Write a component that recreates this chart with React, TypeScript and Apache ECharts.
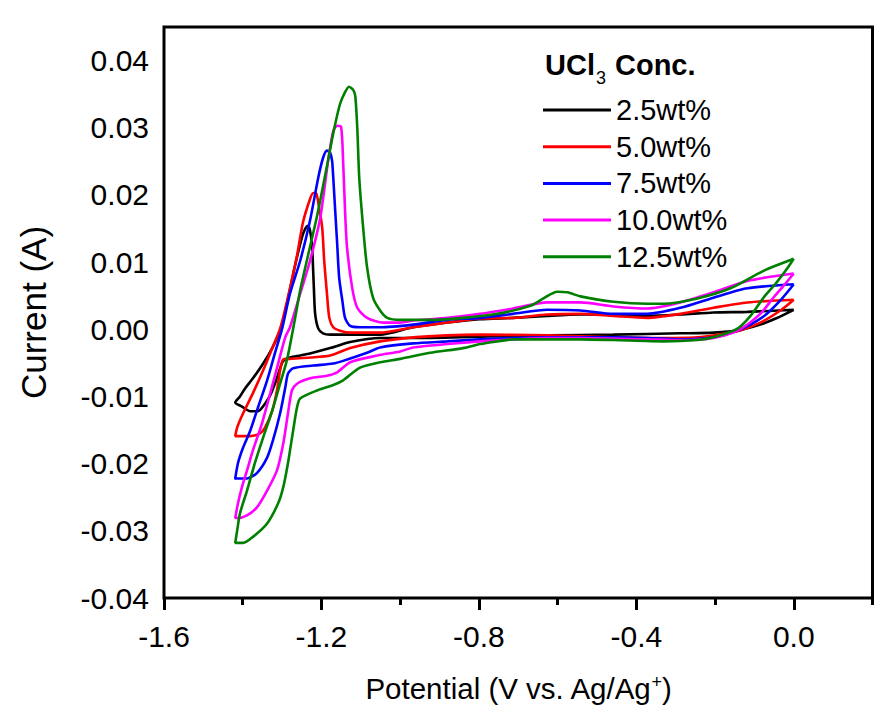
import React, { useEffect, useRef } from "react";
import * as echarts from "echarts";

const FONT = "'Liberation Sans', Arial, sans-serif";

const X_MAJOR = [-1.6, -1.2, -0.8, -0.4, 0.0];
const X_MINOR = [-1.4, -1.0, -0.6, -0.2, 0.2];
const Y_TICKS = [-0.04, -0.03, -0.02, -0.01, 0.0, 0.01, 0.02, 0.03, 0.04];

const SERIES_NAMES = ["2.5wt%", "5.0wt%", "7.5wt%", "10.0wt%", "12.5wt%"];
const SERIES_COLORS = ["#000000", "#ff0000", "#0000ff", "#ff00ff", "#008000"];

// [potential (V), current (A)] — cathodic sweep from 0 V to -1.42 V, then anodic back
const CV_2_5 = [
  [0.0, 0.0029], [-0.046, 0.0016], [-0.085, 0.0007], [-0.143, -0.0002], [-0.204, -0.0005],
  [-0.288, -0.0006], [-0.458, -0.0008], [-0.626, -0.0009], [-0.797, -0.0011], [-0.967, -0.0013],
  [-1.051, -0.0013], [-1.127, -0.0019], [-1.178, -0.0028], [-1.229, -0.0036], [-1.254, -0.0039],
  [-1.28, -0.0042], [-1.297, -0.0047], [-1.305, -0.0058], [-1.315, -0.0076], [-1.33, -0.0098],
  [-1.346, -0.0113], [-1.361, -0.0122], [-1.381, -0.0122], [-1.402, -0.0115], [-1.419, -0.0109],
  [-1.407, -0.01], [-1.394, -0.0088], [-1.374, -0.0073], [-1.348, -0.0051], [-1.325, -0.0028],
  [-1.305, -0.0002], [-1.287, 0.004], [-1.267, 0.0095], [-1.249, 0.0138], [-1.241, 0.015],
  [-1.234, 0.0154], [-1.229, 0.0147], [-1.224, 0.0125], [-1.221, 0.0087], [-1.219, 0.0058],
  [-1.216, 0.0023], [-1.208, 0.0001], [-1.196, -0.0006], [-1.178, -0.0008], [-1.127, -0.0008],
  [-1.051, -0.0008], [-0.967, 0.0003], [-0.88, 0.001], [-0.797, 0.0015], [-0.713, 0.0017],
  [-0.626, 0.002], [-0.542, 0.0022], [-0.458, 0.0022], [-0.372, 0.002], [-0.288, 0.0022],
  [-0.204, 0.0025], [-0.118, 0.0026], [0.0, 0.0029],
];

const CV_5_0 = [
  [0.0, 0.0044], [-0.034, 0.0028], [-0.085, 0.001], [-0.143, -0.0003], [-0.161, -0.0005],
  [-0.245, -0.0012], [-0.331, -0.0013], [-0.458, -0.0012], [-0.626, -0.0009], [-0.797, -0.0008],
  [-0.88, -0.0009], [-0.967, -0.0012], [-1.051, -0.0018], [-1.127, -0.0028], [-1.178, -0.0039],
  [-1.229, -0.0042], [-1.28, -0.0044], [-1.297, -0.0045], [-1.305, -0.0061], [-1.313, -0.0091],
  [-1.325, -0.0121], [-1.343, -0.0146], [-1.356, -0.0155], [-1.381, -0.0159], [-1.419, -0.0159],
  [-1.414, -0.0146], [-1.399, -0.0125], [-1.374, -0.0095], [-1.348, -0.0061], [-1.325, -0.0028],
  [-1.305, 0.0001], [-1.287, 0.0043], [-1.262, 0.011], [-1.247, 0.0159], [-1.229, 0.0194],
  [-1.221, 0.0203], [-1.213, 0.0202], [-1.206, 0.0181], [-1.198, 0.0151], [-1.193, 0.0102],
  [-1.186, 0.0053], [-1.18, 0.0017], [-1.17, 0.0003], [-1.153, -0.0002], [-1.127, -0.0005],
  [-1.051, -0.0005], [-0.967, 0.0003], [-0.88, 0.001], [-0.797, 0.0016], [-0.713, 0.0017],
  [-0.626, 0.0022], [-0.542, 0.0023], [-0.458, 0.002], [-0.372, 0.0017], [-0.288, 0.0023],
  [-0.204, 0.0032], [-0.118, 0.004], [0.0, 0.0044],
];

const CV_7_5 = [
  [0.0, 0.0067], [-0.034, 0.0043], [-0.077, 0.0019], [-0.143, -0.0002], [-0.204, -0.0012],
  [-0.288, -0.0015], [-0.372, -0.0013], [-0.458, -0.0012], [-0.542, -0.0012], [-0.626, -0.0012],
  [-0.713, -0.0013], [-0.797, -0.0015], [-0.88, -0.0018], [-0.967, -0.0021], [-1.051, -0.0027],
  [-1.084, -0.0035], [-1.145, -0.0047], [-1.17, -0.0051], [-1.221, -0.0054], [-1.272, -0.0058],
  [-1.285, -0.0066], [-1.292, -0.0087], [-1.305, -0.0125], [-1.323, -0.0165], [-1.338, -0.0191],
  [-1.364, -0.0214], [-1.389, -0.0222], [-1.419, -0.0222],
  [-1.412, -0.0199], [-1.399, -0.0176], [-1.381, -0.0151], [-1.361, -0.0116], [-1.338, -0.0076],
  [-1.318, -0.0035], [-1.3, 0.0001], [-1.28, 0.0053], [-1.254, 0.0102], [-1.229, 0.0162],
  [-1.208, 0.0226], [-1.196, 0.0255], [-1.186, 0.0266], [-1.178, 0.0263], [-1.173, 0.0251],
  [-1.17, 0.0226], [-1.165, 0.0176], [-1.16, 0.0127], [-1.155, 0.0077], [-1.147, 0.0043],
  [-1.14, 0.0017], [-1.127, 0.0005], [-1.102, 0.0003], [-1.051, 0.0003], [-0.967, 0.0007],
  [-0.88, 0.0014], [-0.797, 0.0017], [-0.713, 0.0023], [-0.626, 0.0029], [-0.542, 0.0028],
  [-0.458, 0.0023], [-0.372, 0.0023], [-0.288, 0.0032], [-0.204, 0.0047], [-0.118, 0.0061],
  [0.0, 0.0067],
];

const CV_10_0 = [
  [0.0, 0.0083], [-0.021, 0.0068], [-0.052, 0.0047], [-0.085, 0.0023], [-0.143, -0.0002],
  [-0.204, -0.0013], [-0.288, -0.0016], [-0.372, -0.0015], [-0.542, -0.0013], [-0.626, -0.0013],
  [-0.713, -0.0015], [-0.797, -0.0018], [-0.88, -0.0022], [-0.967, -0.0027], [-1.0, -0.0033],
  [-1.058, -0.0039], [-1.127, -0.0049], [-1.16, -0.0064], [-1.186, -0.0069], [-1.229, -0.0073],
  [-1.262, -0.0081], [-1.275, -0.0091], [-1.285, -0.0125], [-1.297, -0.017], [-1.313, -0.021],
  [-1.338, -0.024], [-1.364, -0.0265], [-1.389, -0.0277], [-1.414, -0.0281], [-1.419, -0.0281],
  [-1.412, -0.0259], [-1.402, -0.0235], [-1.389, -0.021], [-1.374, -0.018], [-1.351, -0.014],
  [-1.33, -0.0095], [-1.31, -0.0051], [-1.292, -0.0012], [-1.28, 0.0003], [-1.254, 0.0053],
  [-1.229, 0.0102], [-1.203, 0.0166], [-1.183, 0.0251], [-1.17, 0.0295], [-1.16, 0.0303],
  [-1.15, 0.0301], [-1.145, 0.0251], [-1.14, 0.0176], [-1.135, 0.0122], [-1.122, 0.0062],
  [-1.109, 0.0032], [-1.084, 0.0017], [-1.043, 0.001], [-1.0, 0.001], [-0.967, 0.0013],
  [-0.88, 0.0017], [-0.797, 0.0023], [-0.713, 0.0031], [-0.626, 0.004], [-0.542, 0.004],
  [-0.458, 0.0034], [-0.372, 0.0031], [-0.288, 0.004], [-0.204, 0.0055], [-0.118, 0.0072],
  [0.0, 0.0083],
];

const CV_12_5 = [
  [0.0, 0.0105], [-0.021, 0.0087], [-0.046, 0.0068], [-0.077, 0.0047], [-0.11, 0.002],
  [-0.143, 0.0001], [-0.204, -0.0012], [-0.245, -0.0016], [-0.331, -0.0018], [-0.458, -0.0016],
  [-0.542, -0.0015], [-0.626, -0.0015], [-0.713, -0.0015], [-0.753, -0.0018], [-0.797, -0.0022],
  [-0.84, -0.0028], [-0.924, -0.0035], [-1.0, -0.0044], [-1.051, -0.0049], [-1.102, -0.0057],
  [-1.145, -0.0076], [-1.17, -0.0083], [-1.211, -0.0091], [-1.254, -0.0103], [-1.262, -0.0116],
  [-1.272, -0.0151], [-1.285, -0.0199], [-1.297, -0.0235], [-1.31, -0.0259], [-1.338, -0.0289],
  [-1.374, -0.0309], [-1.399, -0.0318], [-1.419, -0.0318],
  [-1.414, -0.0299], [-1.407, -0.0274], [-1.389, -0.024], [-1.369, -0.0199], [-1.348, -0.0161],
  [-1.325, -0.0121], [-1.305, -0.0081], [-1.287, -0.0044], [-1.269, 0.001], [-1.254, 0.0058],
  [-1.236, 0.0105], [-1.211, 0.0169], [-1.186, 0.0243], [-1.17, 0.0292], [-1.153, 0.0335],
  [-1.14, 0.0353], [-1.13, 0.0361], [-1.119, 0.0356], [-1.114, 0.0347], [-1.109, 0.03],
  [-1.104, 0.0226], [-1.094, 0.0151], [-1.084, 0.0092], [-1.069, 0.0047], [-1.051, 0.0028],
  [-1.033, 0.0017], [-1.0, 0.0014], [-0.924, 0.0014], [-0.84, 0.0017], [-0.753, 0.0023],
  [-0.669, 0.0035], [-0.636, 0.0046], [-0.601, 0.0056], [-0.575, 0.0055], [-0.542, 0.0049],
  [-0.458, 0.0041], [-0.372, 0.0038], [-0.331, 0.0038], [-0.245, 0.0046], [-0.161, 0.0061],
  [-0.077, 0.0087], [0.0, 0.0105],
];

const SERIES_DATA = [CV_2_5, CV_5_0, CV_7_5, CV_10_0, CV_12_5];

export default function App() {
  const ref = useRef<HTMLDivElement>(null);

  useEffect(() => {
    if (!ref.current) return;
    const chart = echarts.init(ref.current, null, { renderer: "svg" });
    const option: any = {
      animation: false,
      backgroundColor: "#ffffff",
      grid: {
        left: 164,
        right: 13.5,
        top: 27,
        bottom: 112,
        show: true,
        borderColor: "#000000",
        borderWidth: 3,
        containLabel: false,
      },
      legend: {
        data: SERIES_NAMES,
        orient: "vertical",
        left: 543,
        top: 95,
        padding: 0,
        icon: "rect",
        itemWidth: 68,
        itemHeight: 3,
        itemGap: 6.7,
        textStyle: { fontSize: 29, fontFamily: FONT, color: "#000", lineHeight: 30 },
      },
      graphic: [
        {
          type: "text",
          x: 545,
          y: 65,
          style: { text: "UCl", fontSize: 29, fontWeight: "bold", fontFamily: FONT, fill: "#000", verticalAlign: "middle" },
        },
        {
          type: "text",
          x: 596,
          y: 78,
          style: { text: "3", fontSize: 18, fontWeight: "normal", fontFamily: FONT, fill: "#000", verticalAlign: "middle" },
        },
        {
          type: "text",
          x: 615,
          y: 65,
          style: { text: "Conc.", fontSize: 29, fontWeight: "bold", fontFamily: FONT, fill: "#000", verticalAlign: "middle" },
        },
      ],
      xAxis: [
        {
          type: "value",
          min: -1.6,
          max: 0.2,
          position: "bottom",
          axisLine: { show: false, onZero: false },
          splitLine: { show: false },
          axisTick: {
            show: true,
            inside: false,
            length: 12,
            customValues: X_MAJOR,
            lineStyle: { color: "#000", width: 3 },
          },
          axisLabel: {
            customValues: X_MAJOR,
            formatter: (v: number) => v.toFixed(1),
            fontSize: 30,
            fontFamily: FONT,
            color: "#000",
            margin: 23,
          },
          name: "Potential (V vs. Ag/Ag{sup|+})",
          nameLocation: "middle",
          nameGap: 75,
          nameTextStyle: {
            fontSize: 29.5,
            fontFamily: FONT,
            color: "#000",
            rich: {
              sup: { fontSize: 18, fontFamily: FONT, color: "#000", verticalAlign: "top", lineHeight: 30 },
            },
          },
        },
        {
          type: "value",
          min: -1.6,
          max: 0.2,
          position: "bottom",
          axisLine: { show: false, onZero: false },
          splitLine: { show: false },
          axisTick: {
            show: true,
            inside: false,
            length: 7,
            customValues: X_MINOR,
            lineStyle: { color: "#000", width: 3 },
          },
          axisLabel: { show: false },
        },
      ],
      yAxis: {
        type: "value",
        min: -0.04,
        max: 0.045,
        axisLine: { show: false, onZero: false },
        axisTick: { show: false },
        splitLine: { show: false },
        axisLabel: {
          customValues: Y_TICKS,
          formatter: (v: number) => v.toFixed(2),
          fontSize: 30,
          fontFamily: FONT,
          color: "#000",
          margin: 15,
        },
        name: "Current (A)",
        nameLocation: "middle",
        nameGap: 113,
        nameTextStyle: { fontSize: 35, fontFamily: FONT, color: "#000" },
      },
      series: SERIES_NAMES.map((name, i) => ({
        name,
        type: "line",
        xAxisIndex: 0,
        data: SERIES_DATA[i],
        showSymbol: false,
        symbol: "none",
        smooth: 0.25,
        color: SERIES_COLORS[i],
        lineStyle: { color: SERIES_COLORS[i], width: 2.6 },
      })),
    };
    chart.setOption(option);
    return () => chart.dispose();
  }, []);

  return (
    <div
      ref={ref}
      style={{ position: "fixed", left: 0, top: 0, width: 886, height: 710, background: "#fff" }}
    />
  );
}
